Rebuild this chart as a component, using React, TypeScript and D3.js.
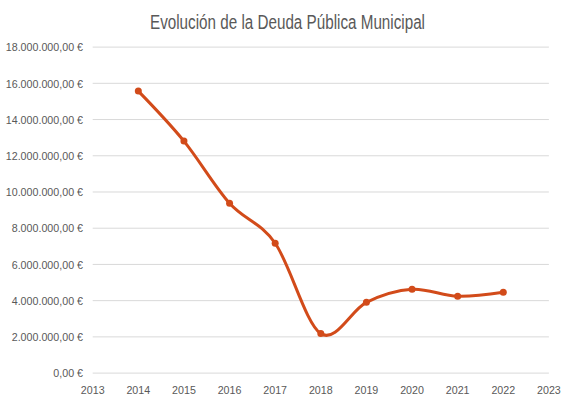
import React from "react";
import * as d3 from "d3";

const years = [2014, 2015, 2016, 2017, 2018, 2019, 2020, 2021, 2022];
const debt = [15570000, 12810000, 9380000, 7170000, 2180000, 3910000, 4630000, 4240000, 4460000];
const xTicks = [2013, 2014, 2015, 2016, 2017, 2018, 2019, 2020, 2021, 2022, 2023];
const yTicks = [0, 2000000, 4000000, 6000000, 8000000, 10000000, 12000000, 14000000, 16000000, 18000000];
const title = "Evolución de la Deuda Pública Municipal";

const W = 574, H = 402;
const FONT = "'Liberation Sans', Arial, sans-serif";
const SX = 0.93;

const fmt = (v: number) => {
  const int = Math.round(v).toString().replace(/\B(?=(\d{3})+(?!\d))/g, ".");
  return `${int},00 €`;
};

export default function App() {
  const x = d3.scaleLinear().domain([2013, 2023]).range([92.7, 548.9]);
  const y = d3.scaleLinear().domain([0, 18000000]).range([373.1, 47.1]);
  const line = d3
    .line<number>()
    .x((_, i) => x(years[i]))
    .y((d) => y(d))
    .curve(d3.curveCardinal.tension(0));
  return (
    <svg
      width={W}
      height={H}
      style={{ position: "absolute", left: 0, top: 0, background: "#fff" }}
      fontFamily={FONT}
    >
      <text
        x={150}
        y={29}
        fontSize={19.5}
        fill="#595959"
        textLength={275}
        lengthAdjust="spacingAndGlyphs"
      >
        {title}
      </text>
      {yTicks.map((t) => (
        <g key={t}>
          <line x1={x(2013)} x2={x(2023)} y1={y(t)} y2={y(t)} stroke="#d9d9d9" strokeWidth={1} />
          <text
            transform={`translate(83,${y(t) + 4.2}) scale(${SX},1)`}
            textAnchor="end"
            fontSize={11.5}
            fill="#595959"
          >
            {fmt(t)}
          </text>
        </g>
      ))}
      {xTicks.map((t) => (
        <text
          key={t}
          transform={`translate(${x(t)},393.7) scale(${SX},1)`}
          textAnchor="middle"
          fontSize={11.5}
          fill="#595959"
        >
          {t}
        </text>
      ))}
      <path d={line(debt) || ""} fill="none" stroke="#d24b1a" strokeWidth={3} strokeLinecap="round" />
      {debt.map((d, i) => (
        <circle key={i} cx={x(years[i])} cy={y(d)} r={3.5} fill="#d24b1a" />
      ))}
    </svg>
  );
}
